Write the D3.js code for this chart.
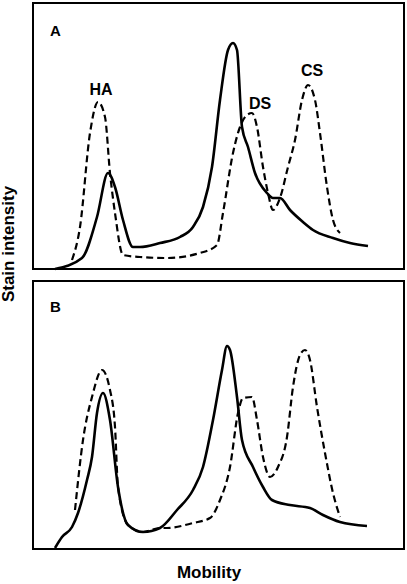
<!DOCTYPE html>
<html><head><meta charset="utf-8">
<script src="https://cdn.jsdelivr.net/npm/d3@7"></script>
<style>html,body{margin:0;padding:0;background:#fff;}svg{display:block;}</style>
</head><body>
<script>
// Mobility (arbitrary units, 0..371 across each panel) / stain intensity (arbitrary units)
const panelLabels = ["A", "B"];
const peakLabels = [{t:"HA", m:68, v:174}, {t:"DS", m:227, v:160}, {t:"CS", m:279, v:193}];
const aSolidMob = [22,49,64,75,82,90,100,107,127,147,160,170,179,187,195,200,204,209,215,222,234,240,247,257,270,280,300,317,335];
const aSolidInt = [0,11,52,96,82,49,22,22,26,32,42,62,102,169,219,226,219,142,122,96,76,71,71,59,47,39,31,26,23];
const aDashMob = [39,47,57,65,72,77,82,90,107,134,167,184,190,200,207,214,219,224,230,235,240,247,255,262,269,275,282,287,294,300,307];
const aDashInt = [9,42,136,167,152,96,56,14,12,11,16,24,56,116,142,154,156,142,102,76,59,71,102,129,169,184,169,136,82,49,36];
const bSolidMob = [22,29,39,45,54,59,64,70,77,85,95,110,127,144,160,170,180,189,194,197,204,209,220,230,239,257,277,290,307,334];
const bSolidInt = [1,12,22,36,69,92,136,156,129,62,24,17,21,39,59,82,129,179,203,199,152,109,82,62,49,44,41,34,27,23];
const bDashMob = [42,50,59,69,77,82,85,95,110,127,134,160,177,187,197,205,210,219,224,230,237,245,254,260,267,272,277,284,292,300,307];
const bDashInt = [39,109,152,179,159,122,62,24,17,21,21,26,31,49,82,136,151,152,129,92,72,82,112,162,194,199,189,142,96,56,32];

const W = 407, H = 584;
const svg = d3.select("body").append("svg").attr("width", W).attr("height", H);
const font = "'Liberation Sans', Arial, sans-serif";

const panels = [
  {label: panelLabels[0], top: 3, bottom: 269, ymax: 266, lab: 33, solid: [aSolidMob, aSolidInt], dash: [aDashMob, aDashInt], peaks: true},
  {label: panelLabels[1], top: 281, bottom: 549, ymax: 268, lab: 31, solid: [bSolidMob, bSolidInt], dash: [bDashMob, bDashInt], peaks: false}
];
const x = d3.scaleLinear().domain([0, 371]).range([33, 404]);

panels.forEach(p => {
  const y = d3.scaleLinear().domain([0, p.ymax]).range([p.bottom, p.top]);
  svg.append("rect").attr("x", 33).attr("y", p.top).attr("width", 371).attr("height", p.bottom - p.top)
    .attr("fill", "none").attr("stroke", "#000").attr("stroke-width", 2);
  const line = d3.line().x(d => x(d[0])).y(d => y(d[1])).curve(d3.curveMonotoneX);
  const sd = p.solid[0].map((m, i) => [m, p.solid[1][i]]);
  const dd = p.dash[0].map((m, i) => [m, p.dash[1][i]]);
  svg.append("path").attr("d", line(dd)).attr("fill", "none").attr("stroke", "#000")
    .attr("stroke-width", 2.2).attr("stroke-dasharray", "7,4");
  svg.append("path").attr("d", line(sd)).attr("fill", "none").attr("stroke", "#000")
    .attr("stroke-width", 2.6).attr("stroke-linejoin", "round");
  svg.append("text").attr("x", 50).attr("y", p.top + p.lab).text(p.label)
    .attr("font-family", font).attr("font-weight", "bold").attr("font-size", 15);
  if (p.peaks) {
    peakLabels.forEach(l => {
      svg.append("text").attr("x", x(l.m)).attr("y", y(l.v)).attr("text-anchor", "middle").text(l.t)
        .attr("font-family", font).attr("font-weight", "bold").attr("font-size", 16);
    });
  }
});

svg.append("text").attr("transform", "translate(14,244) rotate(-90)").attr("text-anchor", "middle")
  .text("Stain intensity").attr("font-family", font).attr("font-weight", "bold").attr("font-size", 17);
svg.append("text").attr("x", 209).attr("y", 578).attr("text-anchor", "middle")
  .text("Mobility").attr("font-family", font).attr("font-weight", "bold").attr("font-size", 17);
</script>
</body></html>
